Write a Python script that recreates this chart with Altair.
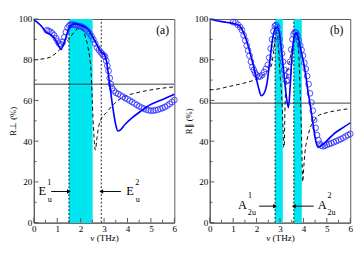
import altair as alt
import pandas as pd

FONT = "Liberation Serif"

# ---------------- Panel (a) ----------------
sol_a_x = [0, 0.15, 0.3, 0.45, 0.56, 0.7, 0.85, 1.0, 1.09, 1.16, 1.25, 1.36, 1.49, 1.6, 1.75, 1.98, 2.15, 2.31, 2.51, 2.71, 2.85, 3.0, 3.1, 3.2, 3.3, 3.4, 3.5, 3.59, 3.7, 3.9, 4.19, 4.6, 4.87, 5.5, 6.0]
sol_a_y = [99.8, 98.3, 96.8, 94.6, 93.2, 92.4, 91.0, 88.2, 86.2, 85.0, 87.2, 90.6, 95.2, 97.0, 97.6, 97.0, 96.2, 95.0, 91.3, 87.0, 84.0, 82.8, 79.5, 71.5, 62.5, 54.5, 48.0, 45.0, 45.6, 48.3, 51.4, 55.0, 57.2, 60.5, 63.0]

circ_a_x = [0.55, 0.63, 0.71, 0.79, 0.87, 0.95, 1.02, 1.09, 1.16, 1.23, 1.3, 1.37, 1.44, 1.51, 1.58, 1.66, 1.74, 1.82, 1.9, 1.98, 2.06, 2.14, 2.22, 2.3, 2.38, 2.46, 2.54, 2.62, 2.7, 2.78, 2.86, 2.93, 2.99, 3.04, 3.09, 3.14, 3.19, 3.24, 3.29, 3.35, 3.42, 3.5, 3.6, 3.7, 3.8, 3.9, 4.0, 4.1, 4.2, 4.3, 4.4, 4.5, 4.6, 4.7, 4.8, 4.9, 5.0, 5.1, 5.2, 5.3, 5.4, 5.5, 5.6, 5.7, 5.8, 5.9, 6.0]
circ_a_y = [94.5, 94.2, 93.8, 93.0, 92.0, 90.5, 89.0, 87.8, 87.5, 88.8, 91.0, 93.6, 95.7, 96.8, 97.2, 97.3, 97.1, 96.9, 96.6, 96.4, 96.1, 95.6, 94.9, 94.0, 93.0, 91.6, 90.0, 88.0, 86.0, 84.8, 83.6, 82.8, 82.0, 81.5, 79.5, 77.0, 74.5, 71.0, 68.0, 66.0, 64.8, 63.8, 63.2, 62.5, 61.9, 61.2, 60.6, 59.9, 59.2, 58.5, 57.8, 57.1, 56.5, 56.0, 55.5, 55.2, 55.0, 55.0, 55.2, 55.5, 55.9, 56.3, 56.8, 57.5, 58.3, 59.2, 60.2]

dash_a_x = [0, 0.3, 0.69, 1.09, 1.49, 1.75, 1.98, 2.18, 2.31, 2.45, 2.5, 2.55, 2.6, 2.63, 2.68, 2.75, 2.88, 3.1, 3.4, 3.8, 4.3, 5.0, 6.0]
dash_a_y = [80.0, 80.3, 81.2, 84.8, 89.9, 94.0, 95.7, 92.0, 86.2, 73.2, 58.5, 46.0, 37.5, 35.6, 40.0, 46.0, 51.0, 54.0, 58.0, 61.6, 63.5, 65.2, 66.7]

band_a_lo = [1.5]
band_a_hi = [2.51]
vline_a = [1.5, 2.88]
hline_a = [68.0]

# ---------------- Panel (b) ----------------
sol_b_x = [0, 0.36, 0.7, 1.03, 1.29, 1.49, 1.69, 1.89, 2.09, 2.2, 2.32, 2.43, 2.56, 2.69, 2.8, 2.89, 2.97, 3.05, 3.16, 3.27, 3.36, 3.43, 3.5, 3.56, 3.62, 3.69, 3.78, 3.89, 4.0, 4.09, 4.2, 4.29, 4.43, 4.52, 4.62, 4.75, 5.0, 5.29, 5.6, 6.0]
sol_b_y = [100.0, 99.0, 98.4, 97.8, 96.4, 92.0, 84.8, 76.0, 66.0, 62.3, 63.5, 67.4, 79.0, 90.6, 95.3, 96.0, 93.0, 86.0, 74.0, 62.0, 56.5, 66.0, 80.0, 87.7, 92.0, 93.2, 91.0, 84.8, 79.0, 73.2, 64.0, 58.0, 47.0, 40.5, 37.0, 37.8, 40.2, 43.5, 46.0, 49.0]

circ_b_x = [1.0, 1.1, 1.2, 1.3, 1.38, 1.45, 1.52, 1.58, 1.64, 1.7, 1.76, 1.82, 1.88, 1.94, 2.0, 2.08, 2.16, 2.24, 2.32, 2.4, 2.48, 2.54, 2.6, 2.66, 2.72, 2.78, 2.83, 2.88, 2.93, 2.98, 3.03, 3.08, 3.13, 3.18, 3.23, 3.28, 3.33, 3.38, 3.43, 3.48, 3.53, 3.58, 3.63, 3.68, 3.74, 3.8, 3.86, 3.92, 3.98, 4.04, 4.1, 4.16, 4.22, 4.28, 4.34, 4.4, 4.46, 4.52, 4.58, 4.64, 4.7, 4.76, 4.84, 4.92, 5.0, 5.1, 5.2, 5.3, 5.4, 5.5, 5.6, 5.7, 5.8, 5.9, 6.0]
circ_b_y = [98.5, 98.3, 97.2, 96.0, 94.5, 92.0, 89.5, 87.0, 84.5, 82.0, 79.0, 76.5, 75.0, 73.5, 72.5, 71.7, 71.8, 72.5, 74.0, 75.5, 77.5, 81.0, 85.5, 90.0, 94.0, 96.5, 97.0, 96.0, 93.0, 90.0, 86.5, 83.0, 79.0, 75.0, 72.0, 69.5, 70.0, 74.0, 79.0, 85.0, 90.0, 92.5, 93.5, 93.2, 92.0, 89.5, 87.0, 84.8, 82.0, 78.5, 75.5, 72.0, 68.0, 63.5, 59.0, 55.0, 50.5, 46.5, 43.0, 40.5, 38.7, 37.8, 37.5, 37.8, 38.2, 38.6, 39.0, 39.5, 40.0, 40.5, 41.0, 41.7, 42.3, 43.0, 43.6]

dash_b_x = [0, 0.4, 0.76, 1.2, 1.56, 2.09, 2.43, 2.55, 2.65, 2.72, 2.79, 2.85, 2.91, 2.96, 3.02, 3.09, 3.13, 3.16, 3.18, 3.21, 3.26, 3.35, 3.45, 3.55, 3.65, 3.72, 3.77, 3.83, 3.88, 3.93, 3.97, 4.02, 4.09, 4.14, 4.2, 4.29, 4.45, 4.63, 5.0, 5.5, 6.0]
dash_b_y = [65.2, 65.7, 66.7, 67.8, 68.8, 71.0, 73.9, 75.5, 78.0, 83.0, 90.0, 93.5, 90.5, 80.4, 70.0, 58.7, 46.5, 37.0, 37.0, 55.0, 68.0, 76.0, 82.0, 87.0, 90.0, 90.5, 88.0, 75.0, 58.0, 38.0, 20.0, 28.0, 37.0, 40.0, 43.0, 46.5, 50.0, 52.5, 54.0, 55.2, 56.0]

band_b_lo = [2.79, 3.59]
band_b_hi = [3.12, 3.93]
vline_b = [2.79, 3.59]
hline_b = [58.7]

# ---------------- ticks ----------------
x_major = [0, 1, 2, 3, 4, 5, 6]
x_minor = [0.5, 1.5, 2.5, 3.5, 4.5, 5.5]
y_major = [0, 20, 40, 60, 80, 100]
y_minor = [10, 30, 50, 70, 90]

BLUE = "#0000ff"
CIRC = "#3333ff"
CYAN = "#00e6f0"
FRAME = "#555555"

xs = alt.Scale(domain=[0, 6], nice=False, zero=False)
ys = alt.Scale(domain=[0, 100], nice=False, zero=False)


def xax():
    return alt.Axis(values=x_major, ticks=False, grid=False, format="d", labelFlush=False,
                    labelFont=FONT, labelFontSize=9.5, labelPadding=1, labelColor="black",
                    titleFont=FONT, titleFontSize=9.5, titleFontWeight="normal",
                    titlePadding=0, titleColor="black", domainColor=FRAME)


def yax():
    return alt.Axis(values=y_major, ticks=False, grid=False, format="d", labelFlush=False,
                    labelFont=FONT, labelFontSize=9.5, labelPadding=2, labelColor="black",
                    titleFont=FONT, titleFontSize=9, titleFontWeight="normal",
                    titlePadding=1, titleColor="black", domainColor=FRAME)


def enc(ytitle, x2=False, y2=False):
    e = dict(x=alt.X("x:Q", scale=xs, axis=xax(), title="ν (THz)"),
             y=alt.Y("y:Q", scale=ys, axis=yax(), title=ytitle))
    if x2:
        e["x2"] = alt.X2("x2:Q")
    if y2:
        e["y2"] = alt.Y2("y2:Q")
    return e


def panel(sx, sy, cx, cy, dx, dy, blo, bhi, vls, hls, arrows, labels, ytitle, w, h):
    sol = pd.DataFrame({"x": sx, "y": sy})
    cir = pd.DataFrame({"x": cx, "y": cy})
    dsh = pd.DataFrame({"x": dx, "y": dy})
    bands = pd.DataFrame({"x": blo, "x2": bhi, "y": [0] * len(blo), "y2": [100] * len(blo)})
    vld = pd.DataFrame({"x": vls, "x2": vls, "y": [0] * len(vls), "y2": [100] * len(vls)})
    hld = pd.DataFrame({"x": [0] * len(hls), "x2": [6] * len(hls), "y": hls, "y2": hls})

    arr = pd.DataFrame({"x": [a[0] for a in arrows], "x2": [a[1] for a in arrows],
                        "y": [a[2] for a in arrows], "y2": [a[2] for a in arrows]})
    heads_r = pd.DataFrame({"x": [a[1] for a in arrows if a[1] > a[0]],
                            "y": [a[2] for a in arrows if a[1] > a[0]]})
    heads_l = pd.DataFrame({"x": [a[1] for a in arrows if a[1] < a[0]],
                            "y": [a[2] for a in arrows if a[1] < a[0]]})
    lab = pd.DataFrame({"t": [l[0] for l in labels], "x": [l[1] for l in labels],
                        "y": [l[2] for l in labels], "s": [l[3] for l in labels]})

    tk = []
    for v in y_major:
        tk.append((0, 0.2, v, v))
    for v in y_minor:
        tk.append((0, 0.12, v, v))
    for v in x_major:
        tk.append((v, v, 0, 2.3))
    for v in x_minor:
        tk.append((v, v, 0, 1.4))
    tkd = pd.DataFrame({"x": [t[0] for t in tk], "x2": [t[1] for t in tk],
                        "y": [t[2] for t in tk], "y2": [t[3] for t in tk]})

    layers = [
        alt.Chart(bands).mark_rect(color=CYAN, opacity=1).encode(**enc(ytitle, x2=True, y2=True)),
        alt.Chart(vld).mark_rule(color="black", strokeWidth=0.9, strokeDash=[2, 2]).encode(**enc(ytitle, x2=True, y2=True)),
        alt.Chart(hld).mark_rule(color="#333333", strokeWidth=1).encode(**enc(ytitle, x2=True, y2=True)),
        alt.Chart(dsh).mark_line(color="black", strokeWidth=1, strokeDash=[4, 3], interpolate="monotone").encode(**enc(ytitle)),
        alt.Chart(cir).mark_point(shape="circle", filled=False, size=36, color=CIRC, strokeWidth=0.9, opacity=1).encode(**enc(ytitle)),
        alt.Chart(sol).mark_line(color=BLUE, strokeWidth=1.7, interpolate="monotone").encode(**enc(ytitle)),
        alt.Chart(arr).mark_rule(color="black", strokeWidth=1).encode(**enc(ytitle, x2=True, y2=True)),
        alt.Chart(tkd).mark_rule(color=FRAME, strokeWidth=1).encode(**enc(ytitle, x2=True, y2=True)),
        alt.Chart(lab).mark_text(font=FONT, color="black", align="center", baseline="middle").encode(
            text="t:N", size=alt.Size("s:Q", scale=None, legend=None), **enc(ytitle)),
    ]
    if len(heads_r):
        layers.append(alt.Chart(heads_r).mark_point(shape="triangle-right", filled=True, size=22, color="black", opacity=1).encode(**enc(ytitle)))
    if len(heads_l):
        layers.append(alt.Chart(heads_l).mark_point(shape="triangle-left", filled=True, size=22, color="black", opacity=1).encode(**enc(ytitle)))
    return alt.layer(*layers).properties(width=w, height=h)


arrows_a = [(0.74, 1.5, 15.3), (3.72, 2.88, 15.3)]
labels_a = [("E", 0.36, 15.6, 13), ("1", 0.66, 20.0, 8.5), ("u", 0.68, 11.6, 8.5),
            ("E", 4.11, 15.6, 13), ("2", 4.42, 20.0, 8.5), ("u", 4.44, 11.6, 8.5),
            ("(a)", 5.5, 94.5, 12)]
arrows_b = [(2.11, 2.79, 8.1), (4.44, 3.59, 8.1)]
labels_b = [("A", 1.4, 8.8, 13), ("1", 1.72, 13.5, 8.5), ("2u", 1.8, 5.4, 8.5),
            ("A", 4.8, 8.8, 13), ("2", 5.12, 13.5, 8.5), ("2u", 5.2, 5.4, 8.5),
            ("(b)", 5.42, 94.5, 12)]

pa = panel(sol_a_x, sol_a_y, circ_a_x, circ_a_y, dash_a_x, dash_a_y, band_a_lo, band_a_hi,
           vline_a, hline_a, arrows_a, labels_a, "R⊥ (%)", 147, 213)
pb = panel(sol_b_x, sol_b_y, circ_b_x, circ_b_y, dash_b_x, dash_b_y, band_b_lo, band_b_hi,
           vline_b, hline_b, arrows_b, labels_b, "R∥ (%)", 147, 213)

chart = alt.hconcat(pa, pb, spacing=4).properties(padding=0).configure_view(
    stroke=FRAME, strokeWidth=1).configure_concat(spacing=4)

chart.save("out.html", embed_options={"renderer": "svg", "actions": False})
